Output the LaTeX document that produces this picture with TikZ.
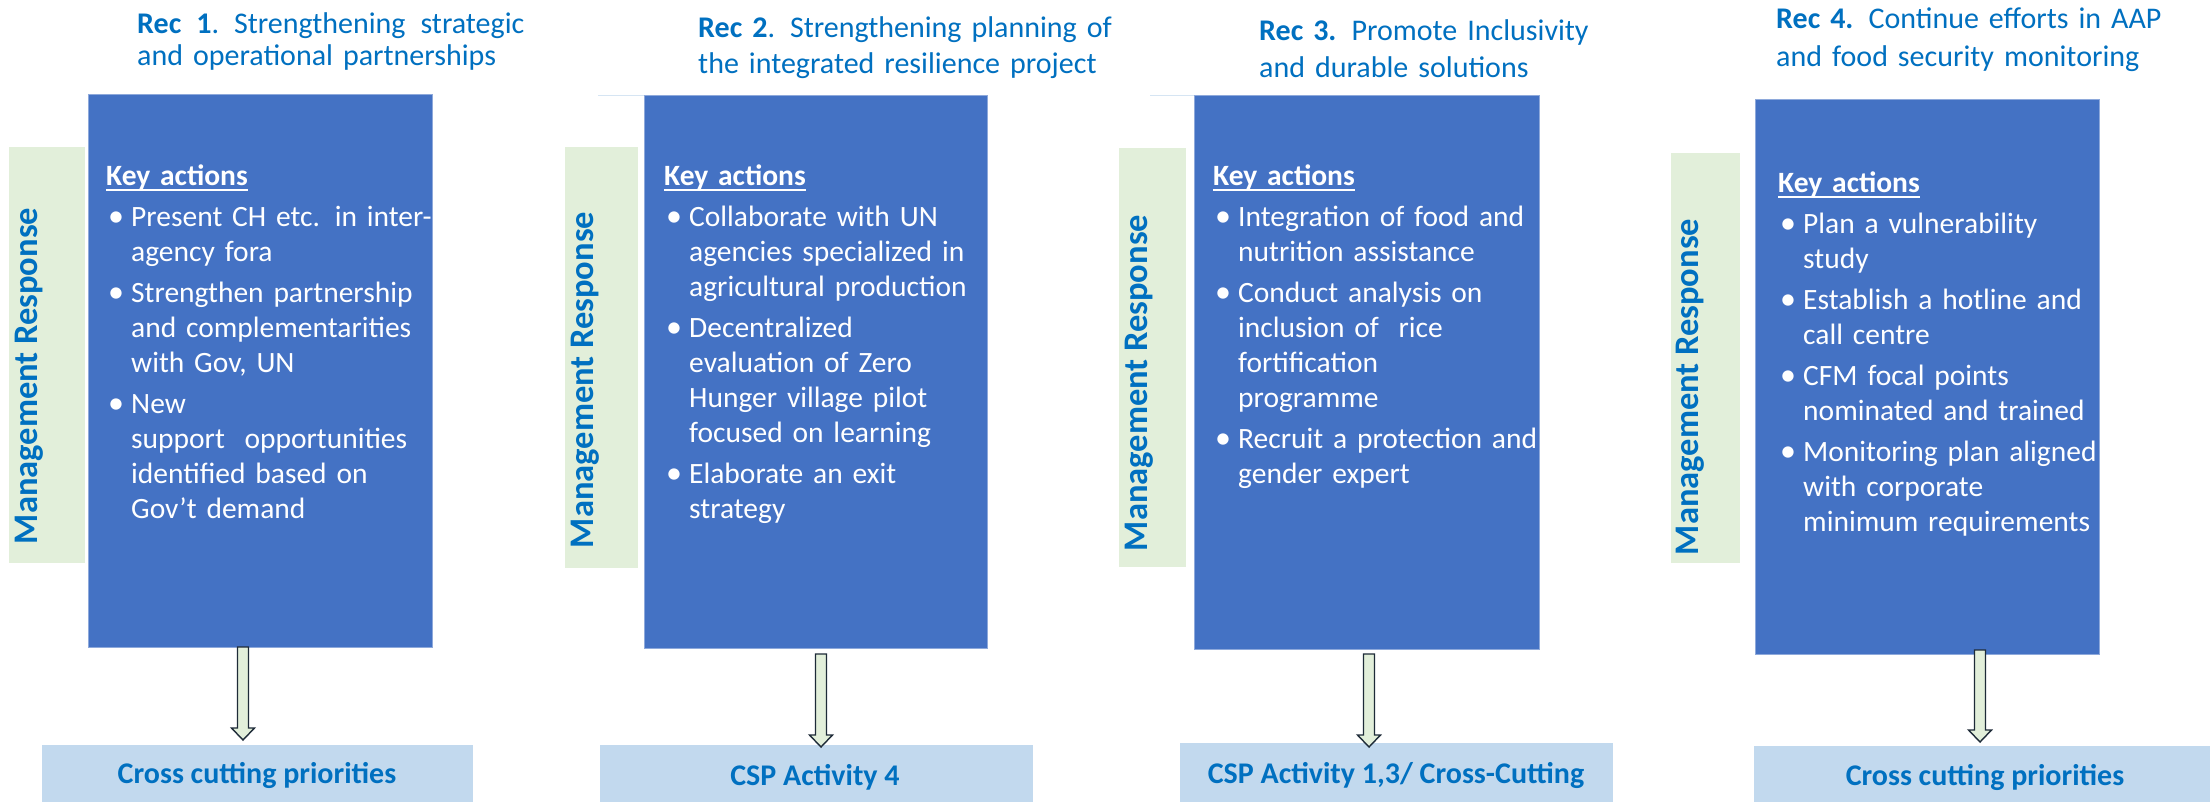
\documentclass[tikz,border=0pt]{standalone}
\usepackage{fontspec}
\setmainfont{Carlito}
\usetikzlibrary{calc}
\definecolor{boxblue}{HTML}{4472C4}
\definecolor{boxedge}{HTML}{8EA9DB}
\definecolor{mgreen}{HTML}{E2EFDA}
\definecolor{lblue}{HTML}{C2D9EE}
\definecolor{tblue}{HTML}{0070C0}
\definecolor{arrowedge}{HTML}{1E2B38}
\definecolor{faint}{HTML}{D6E5F3}
\newcommand\ulbox[1]{\setbox0\hbox{#1}\rlap{\rule[-5.5pt]{\wd0}{1.8pt}}\box0}
\newcommand\bitem[1]{\par\vspace{6pt}\noindent\hangindent=25pt\hangafter=1\makebox[25pt][l]{\hspace{2pt}\raisebox{-0.5pt}{\fontsize{32}{35}\selectfont •}}#1}
% #1 x, #2 from node, #3 to node, #4 top offset, #5 tip offset (both downward, px)
\newcommand\fatarrow[5]{%
  \draw[fatarrow] let \p1=(#2.south), \p2=(#3.north),
      \n1={\y1-#4pt}, \n2={\y2-#5pt}, \n3={\y2-#5pt+12pt} in
    ({#1pt-5.5pt},\n1) -- ({#1pt+5.5pt},\n1) -- ({#1pt+5.5pt},\n3)
    -- ({#1pt+11.5pt},\n3) -- ({#1pt},\n2) -- ({#1pt-11.5pt},\n3)
    -- ({#1pt-5.5pt},\n3) -- cycle;}
\begin{document}
\begin{tikzpicture}[x=1pt,y=-1pt,
  greenbar/.style={fill=mgreen, draw=none, inner sep=0, outer sep=0},
  bluebox/.style={fill=boxblue, draw=boxedge, line width=0.8pt, inner sep=0, outer sep=0},
  bottombox/.style={fill=lblue, draw=none, inner sep=0, outer sep=0},
  mgmt/.style={rotate=90, anchor=base, text=tblue, inner sep=0, font=\fontsize{34.5}{40}\selectfont\bfseries},
  bottomtext/.style={anchor=base, text=tblue, inner sep=0, font=\fontsize{30}{36}\selectfont\bfseries},
  rectitle/.style={anchor=north west, inner sep=0, text=tblue, align=left, text width=460},
  body/.style={anchor=north west, inner sep=0, text=white, align=left, text width=335, font=\fontsize{29.5}{35}\selectfont},
  fatarrow/.style={fill=mgreen, draw=arrowedge, line width=1.4pt, line join=miter},
  faintline/.style={draw=faint, line width=1pt}]
\useasboundingbox (0,0) rectangle (2210,801);
\clip (0,0) rectangle (2210,801);
\fill[white] (0,0) rectangle (2210,801);

% ---------- boxes ----------
\node[greenbar, minimum width=76, minimum height=416] (g1) at (47,355) {};
\node[bluebox, minimum width=344, minimum height=553] (b1) at (260,370.5) {};
\node[bottombox, minimum width=431, minimum height=60] (c1) at (257.5,775) {};

\node[greenbar, minimum width=73, minimum height=421] (g2) at (601.5,357.5) {};
\node[bluebox, minimum width=343, minimum height=553] (b2) at (815.5,371.5) {};
\node[bottombox, minimum width=433, minimum height=60] (c2) at (816.5,775) {};

\node[greenbar, minimum width=67, minimum height=419] (g3) at (1152.5,357.5) {};
\node[bluebox, minimum width=345, minimum height=554] (b3) at (1366.5,372) {};
\node[bottombox, minimum width=433, minimum height=62] (c3) at (1396.5,774) {};

\node[greenbar, minimum width=69, minimum height=410] (g4) at (1705.5,358) {};
\node[bluebox, minimum width=344, minimum height=555] (b4) at (1927,376.5) {};
\node[bottombox, minimum width=461, minimum height=60] (c4) at (1984.5,776) {};

\draw[faintline] (598,95) -- (b2.north west);
\draw[faintline] (1150,95) -- (b3.north west);

% ---------- side labels ----------
\node[mgmt] (m1) at (37,376) {Management Response};
\node[mgmt] (m2) at (593,380) {Management Response};
\node[mgmt] (m3) at (1147,383) {Management Response};
\node[mgmt] (m4) at (1698,387) {Management Response};

% ---------- titles ----------
\node[rectitle, font=\fontsize{30}{32.5}\selectfont] (t1) at (137,10.25)
  {\strut\textbf{Rec}\hspace{15pt}\textbf{1}.\hspace{15pt}Strengthening\hspace{15pt}strategic\newline and operational partnerships\par};
\node[rectitle, font=\fontsize{30}{36}\selectfont] (t2) at (698,11.8)
  {\strut\textbf{Rec 2}. Strengthening planning of\newline the integrated resilience project\par};
\node[rectitle, font=\fontsize{30}{37}\selectfont] (t3) at (1259,14.1)
  {\strut\textbf{Rec 3.} Promote Inclusivity\newline and durable solutions\par};
\node[rectitle, font=\fontsize{30}{38.5}\selectfont] (t4) at (1776,1.05)
  {\strut\textbf{Rec 4.} Continue efforts in AAP\newline and food security monitoring\par};

% ---------- key actions ----------
\node[body] (k1) at (106,160.5) {\strut\ulbox{\textbf{Key actions}}%
  \bitem{Present CH etc. in inter-\newline agency fora}%
  \bitem{Strengthen partnership\newline and complementarities\newline with Gov, UN}%
  \bitem{New\newline support\ \ opportunities\newline identified based on\newline Gov’t demand}\par};
\node[body] (k2) at (664,160.5) {\strut\ulbox{\textbf{Key actions}}%
  \bitem{Collaborate with UN\newline agencies specialized in\newline agricultural production}%
  \bitem{Decentralized\newline evaluation of Zero\newline Hunger village pilot\newline focused on learning}%
  \bitem{Elaborate an exit\newline strategy}\par};
\node[body] (k3) at (1213,160.5) {\strut\ulbox{\textbf{Key actions}}%
  \bitem{Integration of food and\newline nutrition assistance}%
  \bitem{Conduct analysis on\newline inclusion of\ \ rice\newline fortification\newline programme}%
  \bitem{Recruit a protection and\newline gender expert}\par};
\node[body] (k4) at (1778,167.5) {\strut\ulbox{\textbf{Key actions}}%
  \bitem{Plan a vulnerability\newline study}%
  \bitem{Establish a hotline and\newline call centre}%
  \bitem{CFM focal points\newline nominated and trained}%
  \bitem{Monitoring plan aligned\newline with corporate\newline minimum requirements}\par};

% ---------- arrows ----------
\fatarrow{243}{b1}{c1}{0}{-5}
\fatarrow{821}{b2}{c2}{6}{2}
\fatarrow{1369}{b3}{c3}{5}{4}
\fatarrow{1980}{b4}{c4}{-4}{-4}

% ---------- bottom labels ----------
\node[bottomtext] (l1) at (257,783) {Cross cutting priorities};
\node[bottomtext] (l2) at (815,785) {CSP Activity 4};
\node[bottomtext] (l3) at (1396,783) {CSP Activity 1,3/ Cross-Cutting};
\node[bottomtext] (l4) at (1985,785) {Cross cutting priorities};
\end{tikzpicture}
\end{document}
